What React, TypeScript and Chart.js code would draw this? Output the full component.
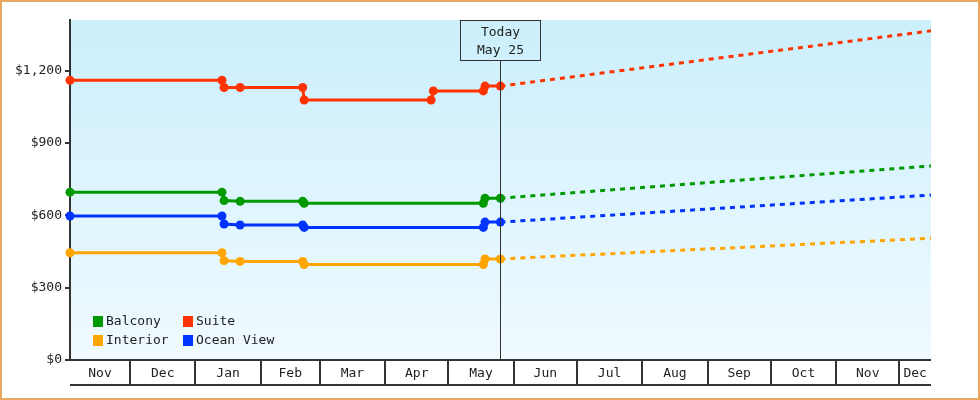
import React, { useEffect, useRef } from 'react';
import { Chart, registerables } from 'chart.js';

Chart.register(...registerables);

// ---- data (x values are days counted from Nov 1 of the first year) ----
const X_MIN = 1.5;
const X_MAX = 410;
const TODAY = 205.7;
const TODAY_LABEL = ['Today', 'May 25'];

const MONTH_LABELS = ['Nov', 'Dec', 'Jan', 'Feb', 'Mar', 'Apr', 'May', 'Jun', 'Jul', 'Aug', 'Sep', 'Oct', 'Nov', 'Dec'];
const MONTH_START_DAYS = [0, 30, 61, 92, 120, 151, 181, 212, 242, 273, 304, 334, 365, 395, 426];

const Y_TICKS = [0, 300, 600, 900, 1200];
const Y_MAX = 1410;

const SERIES_NAMES = ['Balcony', 'Suite', 'Interior', 'Ocean View'];
const SERIES_COLORS = ['#009900', '#ff3300', '#ffa500', '#0033ff'];

const SUITE_DAYS = [1.5, 73.6, 74.6, 82.2, 111.9, 112.6, 172.8, 173.9, 197.6, 198.4, 205.7];
const SUITE_PRICES = [1160, 1160, 1130, 1130, 1130, 1078, 1078, 1116, 1116, 1136, 1136];

const CABIN_DAYS = [1.5, 73.6, 74.6, 82.2, 111.9, 112.6, 197.6, 198.4, 205.7];
const BALCONY_PRICES = [696, 696, 661, 658, 658, 650, 650, 671, 671];
const OCEAN_PRICES = [597, 597, 564, 560, 560, 550, 550, 572, 572];
const INTERIOR_PRICES = [445, 445, 412, 409, 409, 396, 396, 419, 419];

const FORECAST_DAYS = [205.7, 410];
const BALCONY_FORECAST = [671, 805];
const SUITE_FORECAST = [1136, 1365];
const INTERIOR_FORECAST = [419, 505];
const OCEAN_FORECAST = [572, 684];

const FONT = 'DejaVu Sans Mono';
const TEXT_COLOR = '#222';
const AXIS_COLOR = '#333';

const toPoints = (xs: number[], ys: number[]) => xs.map((x, i) => ({ x, y: ys[i] }));

const decorPlugin = {
  id: 'decor',
  beforeDraw(chart: any) {
    const { ctx, chartArea: a, width, height } = chart;
    ctx.save();
    ctx.fillStyle = '#ffffff';
    ctx.fillRect(0, 0, width, height);
    const g = ctx.createLinearGradient(0, a.top, 0, a.bottom);
    g.addColorStop(0, '#cbeffc');
    g.addColorStop(1, '#f0faff');
    ctx.fillStyle = g;
    ctx.fillRect(a.left, a.top, a.right - a.left, a.bottom - a.top);
    ctx.restore();
  },
  afterDatasetsDraw(chart: any) {
    const { ctx, chartArea: a } = chart;
    const xs = chart.scales.x;
    const px = Math.round(xs.getPixelForValue(TODAY)) + 0.5;
    const boxW = 80, boxH = 40;
    ctx.save();
    ctx.strokeStyle = AXIS_COLOR;
    ctx.lineWidth = 1;
    ctx.beginPath();
    ctx.moveTo(px, a.top + boxH);
    ctx.lineTo(px, a.bottom);
    ctx.stroke();
    ctx.strokeRect(px - boxW / 2, a.top + 0.5, boxW, boxH);
    ctx.fillStyle = TEXT_COLOR;
    ctx.font = `13px ${FONT}`;
    ctx.textAlign = 'center';
    ctx.textBaseline = 'middle';
    ctx.fillText(TODAY_LABEL[0], px, a.top + 13);
    ctx.fillText(TODAY_LABEL[1], px, a.top + 31);
    ctx.restore();
  },
  afterDraw(chart: any) {
    const { ctx, chartArea: a, width, height } = chart;
    const xs = chart.scales.x;
    ctx.save();
    // month band
    const top = a.bottom;
    const bot = a.bottom + 25;
    ctx.strokeStyle = AXIS_COLOR;
    ctx.lineWidth = 2;
    ctx.beginPath();
    ctx.moveTo(a.left, top);
    ctx.lineTo(a.right, top);
    ctx.moveTo(a.left, bot);
    ctx.lineTo(a.right, bot);
    ctx.stroke();
    ctx.fillStyle = TEXT_COLOR;
    ctx.font = `13px ${FONT}`;
    ctx.textAlign = 'center';
    ctx.textBaseline = 'middle';
    for (let i = 0; i < MONTH_LABELS.length; i++) {
      const s = Math.max(MONTH_START_DAYS[i], X_MIN);
      const e = Math.min(MONTH_START_DAYS[i + 1], X_MAX);
      const p0 = xs.getPixelForValue(s);
      const p1 = xs.getPixelForValue(e);
      if (MONTH_START_DAYS[i + 1] < X_MAX) {
        const lx = Math.round(p1);
        ctx.beginPath();
        ctx.moveTo(lx, top);
        ctx.lineTo(lx, bot);
        ctx.stroke();
      }
      ctx.fillText(MONTH_LABELS[i], (p0 + p1) / 2, (top + bot) / 2 + 1);
    }
    // legend
    const cols = [a.left + 23, a.left + 113];
    const rows = [a.bottom - 44, a.bottom - 25];
    ctx.textAlign = 'left';
    for (let i = 0; i < SERIES_NAMES.length; i++) {
      const cx = cols[i % 2];
      const cy = rows[Math.floor(i / 2)];
      ctx.fillStyle = SERIES_COLORS[i];
      ctx.fillRect(cx, cy, 10, 11);
      ctx.fillStyle = TEXT_COLOR;
      ctx.fillText(SERIES_NAMES[i], cx + 13, cy + 5.5);
    }
    // outer border
    ctx.strokeStyle = '#e8a862';
    ctx.lineWidth = 2;
    ctx.strokeRect(1, 1, width - 2, height - 2);
    ctx.restore();
  },
};

export default function App() {
  const ref = useRef<HTMLCanvasElement | null>(null);
  useEffect(() => {
    if (!ref.current) return;
    const solid = (name: string, color: string, xs: number[], ys: number[]) => ({
      label: name,
      data: toPoints(xs, ys),
      borderColor: color,
      backgroundColor: color,
      borderWidth: 3,
      pointRadius: 4.5,
      pointBorderWidth: 0,
      pointBackgroundColor: color,
      pointStyle: 'circle',
      tension: 0,
      clip: false,
    });
    const dashed = (name: string, color: string, ys: number[]) => ({
      label: name + ' forecast',
      data: toPoints(FORECAST_DAYS, ys),
      borderColor: color,
      backgroundColor: color,
      borderWidth: 3,
      borderDash: [5, 5],
      pointRadius: 0,
      tension: 0,
      clip: false,
    });
    const chart = new Chart(ref.current, {
      type: 'line',
      data: {
        datasets: [
          dashed(SERIES_NAMES[0], SERIES_COLORS[0], BALCONY_FORECAST),
          dashed(SERIES_NAMES[1], SERIES_COLORS[1], SUITE_FORECAST),
          dashed(SERIES_NAMES[2], SERIES_COLORS[2], INTERIOR_FORECAST),
          dashed(SERIES_NAMES[3], SERIES_COLORS[3], OCEAN_FORECAST),
          solid(SERIES_NAMES[0], SERIES_COLORS[0], CABIN_DAYS, BALCONY_PRICES),
          solid(SERIES_NAMES[1], SERIES_COLORS[1], SUITE_DAYS, SUITE_PRICES),
          solid(SERIES_NAMES[2], SERIES_COLORS[2], CABIN_DAYS, INTERIOR_PRICES),
          solid(SERIES_NAMES[3], SERIES_COLORS[3], CABIN_DAYS, OCEAN_PRICES),
        ] as any,
      },
      options: {
        animation: false,
        responsive: false,
        devicePixelRatio: 1,
        layout: { padding: { top: 20, right: 49, bottom: 40, left: 0 } },
        plugins: { legend: { display: false }, tooltip: { enabled: false } },
        scales: {
          x: { type: 'linear', min: X_MIN, max: X_MAX, display: false },
          y: {
            type: 'linear',
            min: 0,
            max: Y_MAX,
            afterBuildTicks: (s: any) => {
              s.ticks = Y_TICKS.map((v) => ({ value: v }));
            },
            afterFit: (s: any) => {
              s.width = 70;
            },
            grid: {
              display: true,
              drawOnChartArea: false,
              drawTicks: true,
              tickLength: 5,
              color: AXIS_COLOR,
              lineWidth: 2,
            },
            border: { display: true, color: AXIS_COLOR, width: 2 },
            ticks: {
              padding: 3,
              color: TEXT_COLOR,
              font: { family: FONT, size: 13 },
              callback: (v: any) => '$' + Number(v).toLocaleString('en-US'),
            },
          },
        },
      } as any,
      plugins: [decorPlugin],
    });
    return () => chart.destroy();
  }, []);
  return (
    <div style={{ position: 'absolute', left: 0, top: 0, width: 980, height: 400 }}>
      <canvas ref={ref} width={980} height={400} style={{ display: 'block', width: 980, height: 400 }} />
    </div>
  );
}
